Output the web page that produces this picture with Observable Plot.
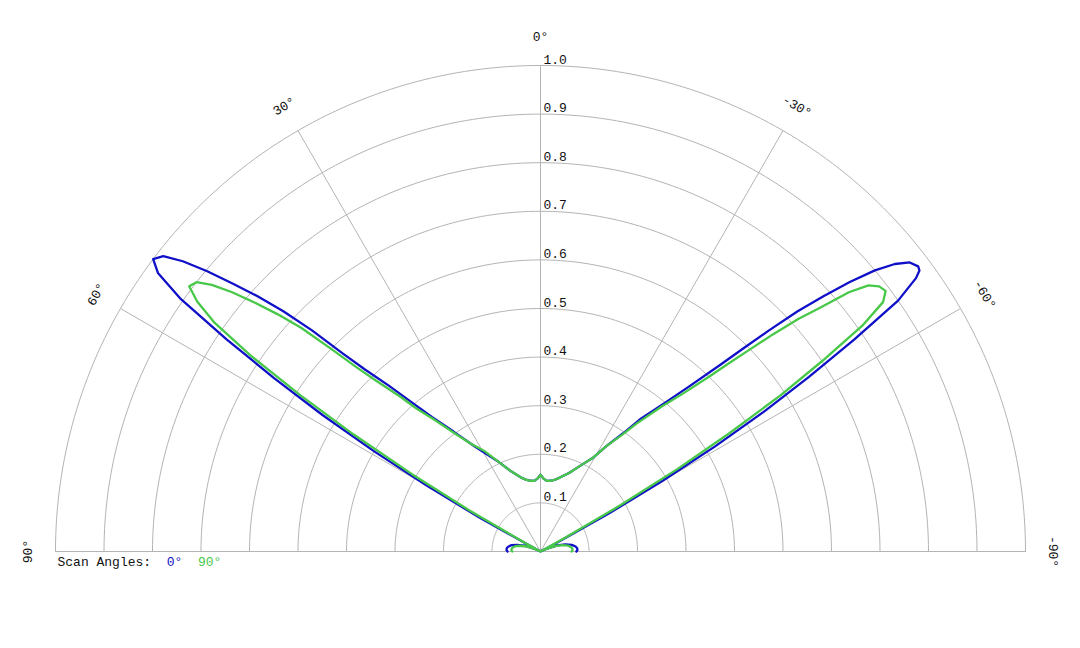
<!DOCTYPE html>
<html>
<head>
<meta charset="utf-8">
<script src="https://cdn.jsdelivr.net/npm/d3@7"></script>
<script src="https://cdn.jsdelivr.net/npm/@observablehq/plot@0.6"></script>
<style>
  html, body { margin: 0; padding: 0; background: #fff; }
  #chart { position: absolute; left: 0; top: 0; }
</style>
</head>
<body>
<div id="chart"></div>
<script>
// ---- Data (angle in degrees, positive = left of 0°; radius normalized) ----
const seriesNames = ["0°", "90°"];
const seriesColors = ["#1010c8", "#48c848"];

const angles0 = [-90, -88, -85, -82, -78, -74, -70, -66, -63, -62, -61, -60, -59, -58, -57, -56, -55, -54, -53.5, -53, -52, -51, -50, -49, -48, -47, -46, -45, -44, -42, -40, -37, -35, -32, -29.5, -25, -20, -15, -11, -8, -5, -2.5, 0, 2.5, 5, 8, 11, 15, 20, 25, 32, 36, 39, 41, 42.5, 44, 45, 46, 47, 48, 49, 50, 51, 52, 53, 54, 55, 56, 57, 58, 59, 60, 61, 62, 63, 66, 70, 74, 78, 82, 85, 88, 90];
const radii0  = [0.074, 0.076, 0.076, 0.073, 0.066, 0.053, 0.037, 0.015, 0, 0.03, 0.16, 0.29, 0.42, 0.545, 0.66, 0.78, 0.9, 0.957, 0.972, 0.975, 0.966, 0.94, 0.9, 0.845, 0.785, 0.725, 0.655, 0.59, 0.535, 0.455, 0.4, 0.34, 0.297, 0.255, 0.223, 0.195, 0.172, 0.158, 0.15, 0.147, 0.146, 0.15, 0.158, 0.15, 0.146, 0.147, 0.15, 0.158, 0.175, 0.203, 0.254, 0.305, 0.356, 0.41, 0.463, 0.52, 0.575, 0.655, 0.725, 0.785, 0.84, 0.897, 0.949, 0.987, 1.0, 0.975, 0.905, 0.78, 0.655, 0.53, 0.4, 0.27, 0.14, 0.01, 0, 0.015, 0.035, 0.05, 0.062, 0.068, 0.07, 0.07, 0.068];

const angles90 = [-90, -88, -85, -82, -78, -74, -70, -66, -62, -61, -60, -59, -58, -57, -56, -55, -54, -53, -52, -51, -50, -49, -48, -47, -46, -45, -44, -42, -40, -37, -35, -32, -29.5, -25, -20, -15, -11, -8, -5, -2.5, 0, 2.5, 5, 8, 11, 15, 20, 25, 29, 33, 36, 39, 41, 42.2, 44, 45, 46, 47, 48, 49, 50, 51, 52, 53, 54, 55, 56, 57, 58, 59, 60, 61, 62, 66, 70, 74, 78, 82, 85, 88, 90];
const radii90  = [0.064, 0.066, 0.066, 0.064, 0.058, 0.047, 0.033, 0.013, 0, 0.06, 0.19, 0.33, 0.46, 0.59, 0.7, 0.81, 0.873, 0.891, 0.886, 0.87, 0.83, 0.765, 0.715, 0.655, 0.595, 0.545, 0.5, 0.435, 0.39, 0.33, 0.293, 0.255, 0.223, 0.195, 0.172, 0.158, 0.15, 0.147, 0.146, 0.15, 0.158, 0.15, 0.146, 0.147, 0.15, 0.158, 0.175, 0.203, 0.235, 0.265, 0.3, 0.35, 0.39, 0.429, 0.49, 0.535, 0.6, 0.675, 0.73, 0.78, 0.83, 0.872, 0.9, 0.907, 0.875, 0.82, 0.72, 0.59, 0.455, 0.31, 0.17, 0.04, 0, 0.012, 0.03, 0.043, 0.053, 0.058, 0.06, 0.06, 0.058];

const ringValues = [0.1, 0.2, 0.3, 0.4, 0.5, 0.6, 0.7, 0.8, 0.9, 1.0];
const spokeAngles = [-60, -30, 0, 30, 60];
const angleLabels = [90, 60, 30, 0, -30, -60, -90];
const legendTitle = "Scan Angles:";

// ---- helpers ----
const rad = d => d * Math.PI / 180;
const px = (a, r) => -r * Math.sin(rad(a));
const py = (a, r) => r * Math.cos(rad(a));

const series = [
  {name: seriesNames[0], angles: angles0, radii: radii0},
  {name: seriesNames[1], angles: angles90, radii: radii90}
];
const pattern = series.flatMap(s => s.angles.map((a, i) => ({series: s.name, a, r: s.radii[i]})));

const ringSweep = d3.range(-90, 90.5, 1);
const rings = ringValues.flatMap(v => ringSweep.map(a => ({ring: v, a, r: v})));
const rMax = d3.max(ringValues);
const baseline = [-90, 90].map(a => ({a, r: rMax}));

const mono = "'Liberation Mono', 'Courier New', monospace";
const fs = 13;
const charW = fs * 0.6;
const textColor = "#111";
const gridColor = "#b4b4b4";

const chart = Plot.plot({
  width: 1080,
  height: 648,
  marginLeft: 55,
  marginRight: 55,
  marginTop: 65,
  marginBottom: 97,
  x: {domain: [-1, 1], axis: null},
  y: {domain: [0, 1], axis: null},
  color: {domain: seriesNames, range: seriesColors},
  marks: [
    Plot.line(rings, {x: d => px(d.a, d.r), y: d => py(d.a, d.r), z: "ring", stroke: gridColor, strokeWidth: 1}),
    Plot.link(spokeAngles, {x1: 0, y1: 0, x2: a => px(a, rMax), y2: a => py(a, rMax), stroke: gridColor, strokeWidth: 1}),
    Plot.line(baseline, {x: d => px(d.a, d.r), y: d => py(d.a, d.r), stroke: gridColor, strokeWidth: 1}),
    Plot.line(pattern, {x: d => px(d.a, d.r), y: d => py(d.a, d.r), z: "series", stroke: "series", strokeWidth: 2.3, strokeLinejoin: "round"}),
    Plot.text(ringValues, {x: 0, y: v => v, text: v => v.toFixed(1), textAnchor: "start", lineAnchor: "bottom", dx: 3, dy: -2, fontFamily: mono, fontSize: fs, fill: textColor}),
    Plot.text(angleLabels, {x: a => px(a, 1.058), y: a => py(a, 1.058), text: a => `${a}°`, rotate: a => -a, fontFamily: mono, fontSize: fs, fill: textColor}),
    Plot.text([legendTitle], {x: -1, y: 0, text: d => d, textAnchor: "start", dx: 2, dy: 10, fontFamily: mono, fontSize: fs, fill: textColor}),
    Plot.text([seriesNames[0]], {x: -1, y: 0, text: d => d, textAnchor: "start", dx: 2 + (legendTitle.length + 2) * charW, dy: 10, fontFamily: mono, fontSize: fs, fill: seriesColors[0]}),
    Plot.text([seriesNames[1]], {x: -1, y: 0, text: d => d, textAnchor: "start", dx: 2 + (legendTitle.length + 2 + seriesNames[0].length + 2) * charW, dy: 10, fontFamily: mono, fontSize: fs, fill: seriesColors[1]})
  ]
});
document.getElementById("chart").appendChild(chart);
</script>
</body>
</html>
